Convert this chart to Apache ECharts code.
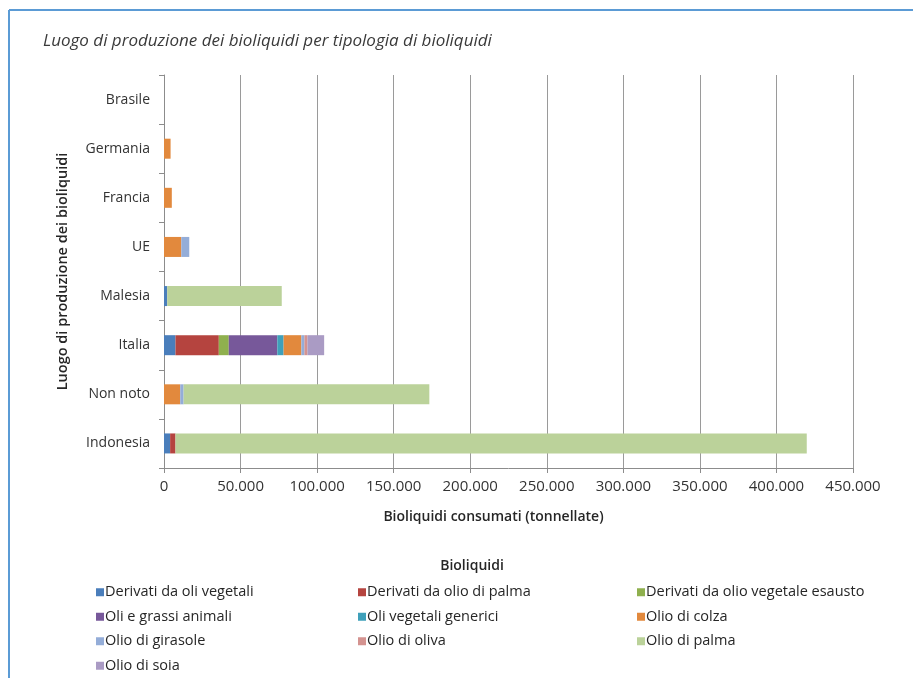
<!DOCTYPE html>
<html>
<head>
<meta charset="utf-8">
<script src="https://cdn.jsdelivr.net/npm/echarts@6/dist/echarts.min.js"></script>
<style>
html,body{margin:0;padding:0;background:#fff;}
#chart{width:913px;height:678px;}
</style>
</head>
<body>
<div id="chart"></div>
<script>
// Categories (bottom to top)
const categories = ['Indonesia', 'Non noto', 'Italia', 'Malesia', 'UE', 'Francia', 'Germania', 'Brasile'];

// Series values (tonnellate), same order as categories
const derivatiOliVegetali      = [4000,   0,      7500,  2100,  0,     0,    0,    0];
const derivatiOlioPalma        = [3500,   0,      28300, 0,     0,     0,    0,    0];
const derivatiOlioEsausto      = [0,      0,      6500,  0,     0,     0,    0,    0];
const oliGrassiAnimali         = [0,      0,      31700, 0,     0,     0,    0,    0];
const oliVegetaliGenerici      = [0,      0,      4100,  0,     0,     0,    0,    0];
const olioColza                = [0,      10600,  11600, 0,     11300, 5100, 4300, 0];
const olioGirasole             = [0,      2200,   2000,  0,     5200,  0,    0,    0];
const olioOliva                = [0,      0,      2000,  0,     0,     0,    0,    0];
const olioPalma                = [412300, 160500, 0,     74800, 0,     0,    0,    0];
const olioSoia                 = [0,      0,      10900, 0,     0,     0,    0,    0];

const seriesNames = [
  'Derivati da oli vegetali', 'Derivati da olio di palma', 'Derivati da olio vegetale esausto',
  'Oli e grassi animali', 'Oli vegetali generici', 'Olio di colza',
  'Olio di girasole', 'Olio di oliva', 'Olio di palma', 'Olio di soia'
];
const seriesValues = [
  derivatiOliVegetali, derivatiOlioPalma, derivatiOlioEsausto,
  oliGrassiAnimali, oliVegetaliGenerici, olioColza,
  olioGirasole, olioOliva, olioPalma, olioSoia
];
const xTickMax = 450000;
const xTickStep = 50000;

const colors = ['#4A7EBB', '#B5443F', '#8FB04E', '#77589A', '#3FA0BA', '#E2893D',
                '#94ADD8', '#D49390', '#BBD29A', '#AA9BC4'];

const FONT = 'Open Sans';
function fmt(v) { return String(v).replace(/\B(?=(\d{3})+(?!\d))/g, '.'); }

const chart = echarts.init(document.getElementById('chart'));
const legendTextStyle = { fontFamily: FONT, fontSize: 14.5, color: '#262626', lineHeight: 24.5, padding: [0, 0, 0, -4] };
const legendCols = [
  [0, 3, 6, 9], [1, 4, 7], [2, 5, 8]
];
const legendLefts = [96, 358, 637];

chart.setOption({
  animation: false,
  color: colors,
  title: [
    { text: 'Luogo di produzione dei bioliquidi per tipologia di bioliquidi', left: 43, top: 33, padding: 0,
      textStyle: { fontFamily: FONT, fontSize: 17, fontStyle: 'italic', fontWeight: 'normal', color: '#3a3a3a' } },
    { text: 'Bioliquidi', left: 472, top: 559, textAlign: 'center', padding: 0,
      textStyle: { fontFamily: FONT, fontSize: 14, fontWeight: 600, color: '#262626' } }
  ],
  graphic: [
    { type: 'line', shape: { x1: 9, y1: 10, x2: 913, y2: 10 }, style: { stroke: '#5B9BD5', lineWidth: 2 } },
    { type: 'line', shape: { x1: 9, y1: 10, x2: 9, y2: 678 }, style: { stroke: '#5B9BD5', lineWidth: 2 } }
  ],
  legend: legendCols.map((idx, i) => ({
    orient: 'vertical', left: legendLefts[i], top: 580, itemGap: 0, padding: 0,
    itemWidth: 8, itemHeight: 8, icon: 'rect',
    textStyle: legendTextStyle, selectedMode: false,
    data: idx.map(k => seriesNames[k])
  })),
  grid: { left: 164, right: 60, top: 75, bottom: 210, containLabel: false },
  xAxis: {
    type: 'value', min: 0, max: xTickMax, interval: xTickStep,
    name: 'Bioliquidi consumati (tonnellate)', nameLocation: 'middle', nameGap: 42,
    nameTextStyle: { fontFamily: FONT, fontSize: 14, fontWeight: 600, color: '#262626', padding: [0, 30, 0, 0] },
    axisLine: { show: true, lineStyle: { color: '#8c8c8c', width: 1 } },
    axisTick: { show: true, length: 5, lineStyle: { color: '#8c8c8c' } },
    axisLabel: { fontFamily: FONT, fontSize: 15, color: '#333', margin: 11, formatter: fmt },
    splitLine: { show: true, lineStyle: { color: '#9a9a9a', width: 1 } }
  },
  yAxis: {
    type: 'category', data: categories,
    name: 'Luogo di produzione dei bioliquidi', nameLocation: 'middle', nameGap: 94, nameRotate: 90,
    nameTextStyle: { fontFamily: FONT, fontSize: 14.5, fontWeight: 600, color: '#262626' },
    axisLine: { show: true, lineStyle: { color: '#8c8c8c', width: 1 } },
    axisTick: { show: true, length: 5, lineStyle: { color: '#8c8c8c' } },
    axisLabel: { fontFamily: FONT, fontSize: 14, color: '#333', margin: 14 },
    splitLine: { show: false }
  },
  series: seriesNames.map((n, i) => ({
    name: n, type: 'bar', stack: 'total', barWidth: 20,
    data: seriesValues[i]
  }))
});
</script>
</body>
</html>
